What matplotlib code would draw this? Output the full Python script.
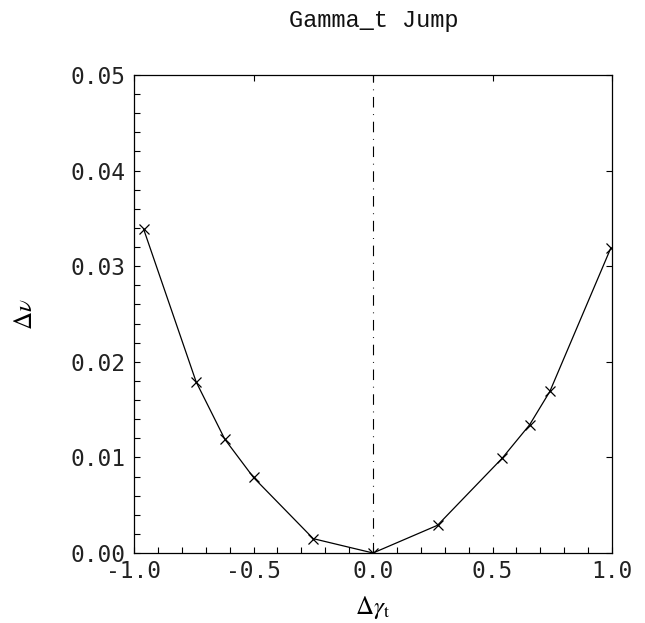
import numpy as np
import matplotlib
matplotlib.use('Agg')
import matplotlib.pyplot as plt
from matplotlib.ticker import MultipleLocator, FormatStrFormatter

plt.rcParams['axes.unicode_minus'] = False
plt.rcParams['mathtext.fontset'] = 'stix'

# dados
dgamma = [-0.96, -0.74, -0.62, -0.50, -0.25, 0.0, 0.27, 0.54, 0.655, 0.74, 0.995]
dnu = [0.0339, 0.0179, 0.0119, 0.0079, 0.0015, 0.0, 0.0029, 0.0099, 0.0134, 0.0169, 0.0319]
titulo = 'Gamma_t Jump'

fig = plt.figure(figsize=(6.45, 6.23), dpi=100)
ax = fig.add_axes([134/645, 1 - 553/623, (612-134)/645, (553-75)/623])

ax.plot(dgamma, dnu, color='black', lw=0.9, marker='x', markersize=7, mew=0.9)
ax.axvline(0.0, color='black', lw=0.8, linestyle=(0, (9.5, 6, 0.8, 6)))

ax.set_xlim(-1.0, 1.0)
ax.set_ylim(0.0, 0.05)
ax.xaxis.set_major_locator(MultipleLocator(0.5))
ax.xaxis.set_minor_locator(MultipleLocator(0.1))
ax.yaxis.set_major_locator(MultipleLocator(0.01))
ax.yaxis.set_minor_locator(MultipleLocator(0.002))
ax.xaxis.set_major_formatter(FormatStrFormatter('%.1f'))
ax.yaxis.set_major_formatter(FormatStrFormatter('%.2f'))

ax.tick_params(which='both', direction='in', top=True, right=True, width=0.8, colors='black')
ax.tick_params(which='major', length=4.5)
ax.tick_params(which='minor', length=4, top=False, right=False)
ax.tick_params(axis='y', pad=6)
ax.tick_params(axis='x', pad=5)
for lab in ax.get_xticklabels() + ax.get_yticklabels():
    lab.set_fontfamily('DejaVu Sans Mono')
    lab.set_fontsize(16.5)
    lab.set_color('#222222')

for s in ax.spines.values():
    s.set_linewidth(0.9)

ax.set_xlabel(r'$\Delta\gamma_{\mathrm{t}}$', fontsize=18, labelpad=8)
ax.set_ylabel(r'$\Delta\nu$', fontsize=18, labelpad=24)
fig.text(374/645, 1 - 20/623, titulo, ha='center', va='center',
         fontfamily='Liberation Mono', fontsize=17, color='#111111')

fig.savefig('out.png', dpi=100)
